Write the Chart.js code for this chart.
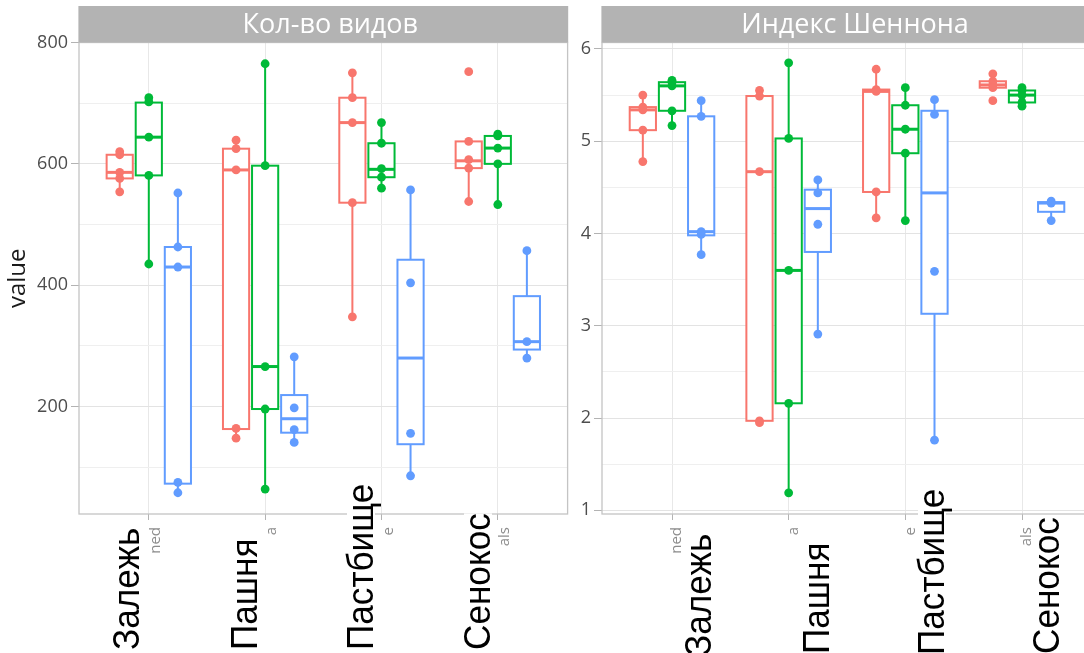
<!DOCTYPE html>
<html>
<head>
<meta charset="utf-8">
<script src="https://cdn.jsdelivr.net/npm/chart.js@4.4.1/dist/chart.umd.min.js"></script>
<style>
  html, body { margin: 0; padding: 0; background: #fff; overflow: hidden; }
  #wrap { position: relative; width: 1084px; height: 653px; overflow: hidden; }
  canvas { position: absolute; top: 0; }
  #cLeft { left: 0; }
  #cRight { left: 560px; }
  .lbl { position: absolute; font-family: 'Liberation Sans', Arial, sans-serif; font-size: 37px; line-height: 0.75;
         color: #000; background: #fff; white-space: nowrap; transform: rotate(-90deg) scale(0.95, 1); transform-origin: 0 0; }
</style>
</head>
<body>
<div id="wrap">
  <canvas id="cLeft" width="572" height="653"></canvas>
  <canvas id="cRight" width="540" height="653"></canvas>
</div>
<script>
// visible bits of the original tick labels, and the overlaid russian names
const tickNames = ['ned', 'a', 'e', 'als'];
const landUse = ['Залежь', 'Пашня', 'Пастбище', 'Сенокос'];

const groupColors = ['#F8766D', '#00BA38', '#619CFF'];
const groupShift = [-0.25, 0, 0.25];
const boxWidth = 0.225;

// Кол-во видов : points per category
const speciesRed = [[620, 615, 586, 576, 554], [639, 625, 590, 164, 148], [750, 709, 668, 536, 348], [752, 637, 607, 593, 538]];
const speciesGreen = [[709, 702, 644, 581, 435], [765, 597, 266, 196, 64], [668, 634, 592, 578, 560], [649, 646, 626, 600, 533]];
const speciesBlue = [[552, 463, 430, 75, 58], [282, 198, 162, 141], [557, 404, 156, 86], [457, 307, 280]];
// boxes: [lower whisker, q1, median, q3, upper whisker]
const speciesRedBox = [[554, 576, 586, 615, 620], [148, 163, 590, 625, 639], [348, 536, 668, 709, 750], [538, 593, 605, 637, 637]];
const speciesGreenBox = [[435, 581, 644, 701, 709], [64, 196, 266, 597, 765], [560, 578, 591, 634, 668], [533, 600, 626, 646, 649]];
const speciesBlueBox = [[58, 73, 430, 463, 552], [141, 157, 180, 219, 282], [86, 138, 280, 442, 557], [280, 294, 307, 382, 457]];
const speciesTicks = [100, 200, 300, 400, 500, 600, 700, 800];

// Индекс Шеннона
const shannonRed = [[5.50, 5.37, 5.34, 5.12, 4.78], [5.55, 5.49, 4.67, 1.97, 1.95], [5.78, 5.56, 5.54, 4.45, 4.17], [5.73, 5.65, 5.61, 5.58, 5.44]];
const shannonGreen = [[5.66, 5.64, 5.60, 5.33, 5.17], [5.85, 5.03, 3.60, 2.16, 1.19], [5.58, 5.39, 5.13, 4.87, 4.14], [5.58, 5.55, 5.50, 5.42, 5.38]];
const shannonBlue = [[5.44, 5.27, 4.02, 3.99, 3.77], [4.58, 4.44, 4.10, 2.91], [5.45, 5.29, 3.59, 1.76], [4.35, 4.33, 4.14]];
const shannonRedBox = [[4.78, 5.12, 5.34, 5.37, 5.50], [1.95, 1.97, 4.67, 5.49, 5.55], [4.17, 4.45, 5.54, 5.56, 5.78], [5.58, 5.58, 5.61, 5.65, 5.73]];
const shannonGreenBox = [[5.17, 5.33, 5.60, 5.64, 5.66], [1.19, 2.16, 3.60, 5.03, 5.85], [4.14, 4.87, 5.13, 5.39, 5.58], [5.38, 5.42, 5.50, 5.55, 5.58]];
const shannonBlueBox = [[3.77, 3.98, 4.02, 5.27, 5.44], [2.91, 3.80, 4.27, 4.475, 4.58], [1.76, 3.13, 4.44, 5.33, 5.45], [4.14, 4.235, 4.33, 4.34, 4.35]];
const shannonTicks = [1, 1.5, 2, 2.5, 3, 3.5, 4, 4.5, 5, 5.5, 6];

// where the pasted labels sit (left edge, bottom)
const labelSpots = [[113, 650], [231, 650], [347, 650], [464, 650], [685, 656], [803, 654], [918, 655], [1033, 654]];

function boxPlugin(stats) {
  return {
    id: 'boxes',
    beforeDatasetsDraw(chart) {
      const { ctx, scales: { x, y } } = chart;
      const half = (x.getPixelForValue(boxWidth) - x.getPixelForValue(0)) / 2;
      ctx.save();
      stats.forEach((grp, g) => {
        grp.forEach((s, c) => {
          const cx = x.getPixelForValue(c + 1 + groupShift[g]);
          const [lo, q1, med, q3, hi] = s.map(v => y.getPixelForValue(v));
          ctx.strokeStyle = groupColors[g];
          ctx.lineWidth = 2;
          ctx.beginPath();
          ctx.moveTo(cx, hi); ctx.lineTo(cx, q3);
          ctx.moveTo(cx, q1); ctx.lineTo(cx, lo);
          ctx.stroke();
          ctx.fillStyle = '#fff';
          ctx.fillRect(cx - half, q3, 2 * half, q1 - q3);
          ctx.strokeRect(cx - half, q3, 2 * half, q1 - q3);
          ctx.lineWidth = 3;
          ctx.beginPath();
          ctx.moveTo(cx - half, med); ctx.lineTo(cx + half, med);
          ctx.stroke();
        });
      });
      ctx.restore();
    }
  };
}

const panelPlugin = {
  id: 'panel',
  afterDatasetsDraw(chart, args, opts) {
    const { ctx, chartArea: a } = chart;
    ctx.save();
    ctx.strokeStyle = '#c4c4c4';
    ctx.lineWidth = 1.3;
    ctx.strokeRect(a.left, a.top, a.right - a.left, a.bottom - a.top);
    ctx.fillStyle = '#b3b3b3';
    ctx.fillRect(a.left - 0.6, 6, a.right - a.left + 1.2, a.top - 6);
    ctx.fillStyle = '#fff';
    ctx.font = '27px "Open Sans"';
    ctx.textAlign = 'center';
    ctx.textBaseline = 'middle';
    ctx.fillText(opts.text, (a.left + a.right) / 2 + opts.shift, (6 + a.top) / 2 + 1);
    ctx.restore();
  }
};

function makePanel(id, o) {
  const major = o.major;
  return new Chart(document.getElementById(id), {
    type: 'scatter',
    data: {
      datasets: groupColors.map((col, g) => ({
        data: o.points[g].flatMap((vals, c) => vals.map(v => ({ x: c + 1 + groupShift[g], y: v }))),
        backgroundColor: col,
        borderWidth: 0,
        pointRadius: 4.4,
        pointHoverRadius: 4.4
      }))
    },
    options: {
      responsive: false,
      animation: false,
      events: [],
      layout: { padding: { top: 42.5, right: o.padRight, left: 0, bottom: 0 } },
      plugins: {
        legend: { display: false },
        tooltip: { enabled: false },
        panel: { text: o.title, shift: o.shift }
      },
      scales: {
        x: {
          type: 'linear', min: 0.4, max: 4.6,
          afterBuildTicks: s => { s.ticks = tickNames.map((t, i) => ({ value: i + 1 })); },
          afterFit: s => { s.height = 139; },
          grid: { color: '#e8e8e8', tickColor: '#b3b3b3', tickLength: 6 },
          border: { display: false },
          ticks: {
            callback: v => tickNames[v - 1], minRotation: 90, maxRotation: 90, autoSkip: false,
            color: '#8c8c8c', font: { family: 'Open Sans', size: 15 }, padding: 7, labelOffset: o.tickShift
          }
        },
        y: {
          min: o.yMin, max: o.yMax,
          afterBuildTicks: s => { s.ticks = o.ticks.map(v => ({ value: v })); },
          afterFit: s => { s.width = o.axisWidth; },
          grid: {
            color: c => major(c.tick.value) ? '#e3e3e3' : '#efefef',
            tickColor: c => major(c.tick.value) ? '#b3b3b3' : 'rgba(0,0,0,0)',
            tickLength: 8
          },
          border: { display: false },
          ticks: {
            callback: v => major(v) ? v : '', autoSkip: false,
            color: '#4d4d4d', font: { family: 'Open Sans', size: 18 }, padding: 3
          },
          title: {
            display: !!o.yTitle, text: o.yTitle || '', color: '#1a1a1a',
            font: { family: 'Open Sans', size: 24 }, padding: { top: 4, bottom: 0 }
          }
        }
      }
    },
    plugins: [boxPlugin(o.boxes), panelPlugin]
  });
}

makePanel('cLeft', {
  title: 'Кол-во видов', shift: 7, yTitle: 'value',
  points: [speciesRed, speciesGreen, speciesBlue],
  boxes: [speciesRedBox, speciesGreenBox, speciesBlueBox],
  yMin: 23, yMax: 800, ticks: speciesTicks, major: v => v % 200 === 0,
  axisWidth: 79, padRight: 4, tickShift: 7
});

makePanel('cRight', {
  title: 'Индекс Шеннона', shift: 8, yTitle: '',
  points: [shannonRed, shannonGreen, shannonBlue],
  boxes: [shannonRedBox, shannonGreenBox, shannonBlueBox],
  yMin: 0.96, yMax: 6.07, ticks: shannonTicks, major: v => Number.isInteger(v),
  axisWidth: 42, padRight: 8, tickShift: 5
});

const wrap = document.getElementById('wrap');
labelSpots.forEach(([lx, by], i) => {
  const d = document.createElement('div');
  d.className = 'lbl';
  d.textContent = landUse[i % 4];
  d.style.left = lx + 'px';
  d.style.top = by + 'px';
  wrap.appendChild(d);
});
</script>
</body>
</html>
